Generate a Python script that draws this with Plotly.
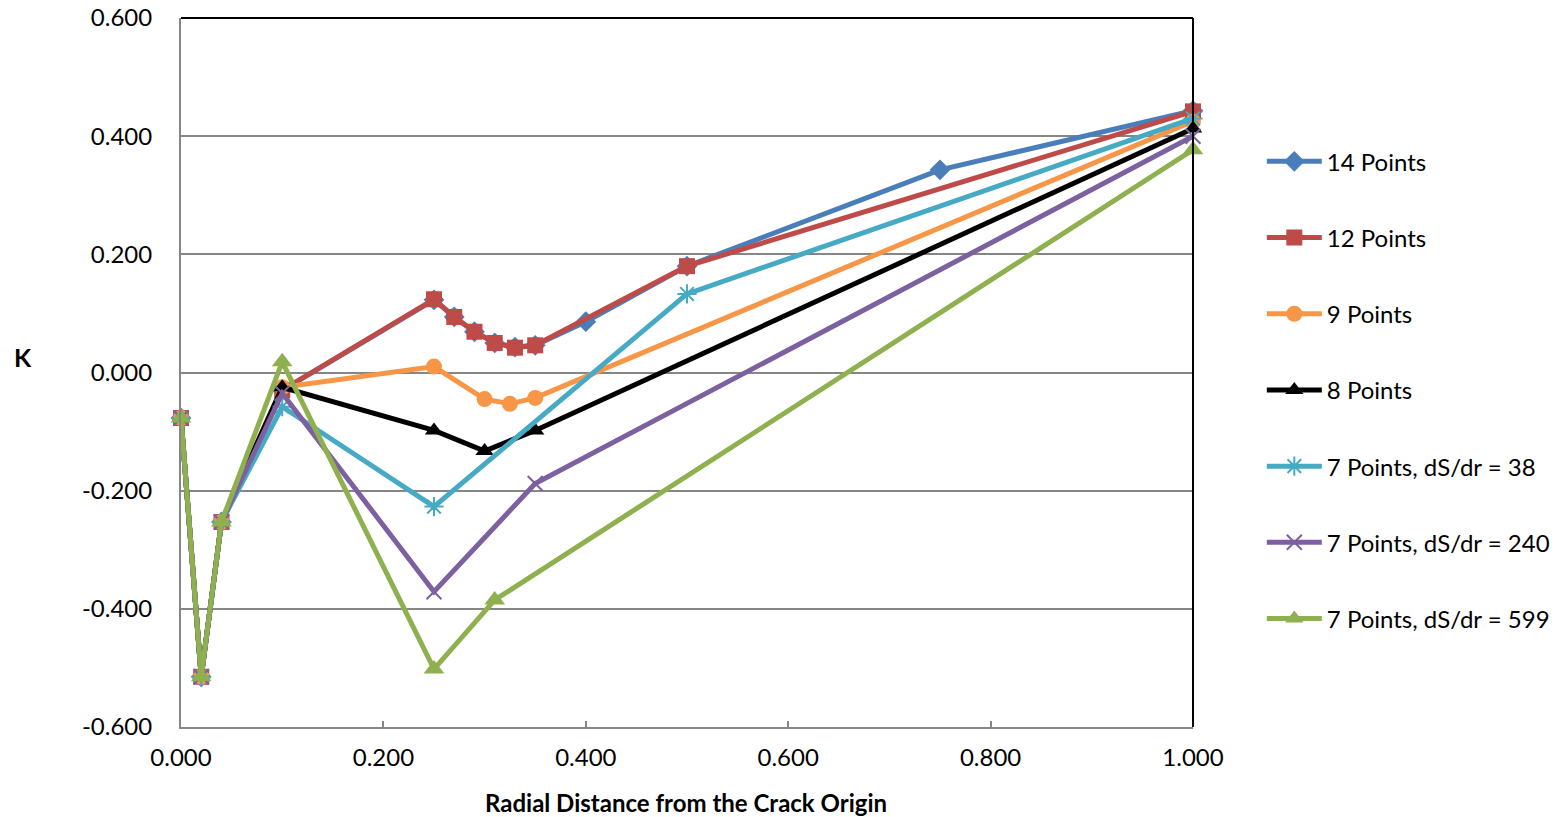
import plotly.graph_objects as go

# ---- data ----
x14 = [0.0, 0.02, 0.04, 0.1, 0.25, 0.27, 0.29, 0.31, 0.33, 0.35, 0.4, 0.5, 0.75, 1.0]
y14 = [-0.077, -0.515, -0.253, -0.030, 0.123, 0.094, 0.069, 0.050, 0.043, 0.046, 0.086, 0.180, 0.343, 0.443]

x12 = [0.0, 0.02, 0.04, 0.1, 0.25, 0.27, 0.29, 0.31, 0.33, 0.35, 0.5, 1.0]
y12 = [-0.077, -0.515, -0.253, -0.030, 0.124, 0.094, 0.069, 0.050, 0.042, 0.046, 0.180, 0.442]

x9 = [0.0, 0.02, 0.04, 0.1, 0.25, 0.3, 0.325, 0.35, 1.0]
y9 = [-0.077, -0.515, -0.253, -0.025, 0.010, -0.045, -0.053, -0.043, 0.425]

x8 = [0.0, 0.02, 0.04, 0.1, 0.25, 0.3, 0.35, 1.0]
y8 = [-0.077, -0.515, -0.253, -0.025, -0.098, -0.133, -0.098, 0.413]

x7a = [0.0, 0.02, 0.04, 0.1, 0.25, 0.5, 1.0]
y7a = [-0.077, -0.515, -0.253, -0.058, -0.227, 0.133, 0.430]

x7b = [0.0, 0.02, 0.04, 0.1, 0.25, 0.35, 1.0]
y7b = [-0.077, -0.515, -0.253, -0.035, -0.371, -0.188, 0.400]

x7c = [0.0, 0.02, 0.04, 0.1, 0.25, 0.31, 1.0]
y7c = [-0.077, -0.515, -0.253, 0.018, -0.502, -0.385, 0.377]

names = ["14 Points", "12 Points", "9 Points", "8 Points",
         "7 Points, dS/dr = 38", "7 Points, dS/dr = 240", "7 Points, dS/dr = 599"]

x_ticks = [0.0, 0.2, 0.4, 0.6, 0.8, 1.0]
y_ticks = [-0.6, -0.4, -0.2, 0.0, 0.2, 0.4, 0.6]
x_ticktext = [f"{v:.3f}" for v in x_ticks]
y_ticktext = [f"{v:.3f}" for v in y_ticks]

# ---- styles ----
colors = ["#4A7EBB", "#BE4B48", "#F79646", "#000000", "#46AAC5", "#7D60A0", "#8FB04E"]
symbols = ["diamond", "square", "circle", "triangle-up", "asterisk-open", "x-thin-open", "triangle-up"]
sizes = [16, 16, 16, 16, 16, 15, 18]

series = [(x14, y14), (x12, y12), (x9, y9), (x8, y8), (x7a, y7a), (x7b, y7b), (x7c, y7c)]

FONT = "Lato, Open Sans, sans-serif"

fig = go.Figure()
for i, ((xs, ys), nm) in enumerate(zip(series, names)):
    open_sym = symbols[i].endswith("open")
    fig.add_trace(go.Scatter(
        x=xs, y=ys, name=nm, mode="lines+markers",
        line=dict(color=colors[i], width=5),
        marker=dict(symbol=symbols[i], size=sizes[i], color=colors[i],
                    line=dict(color=colors[i], width=2 if open_sym else 0)),
        cliponaxis=False, legendgroup=f"g{i}",
    ))

fig.update_layout(
    width=1564, height=817,
    margin=dict(l=181, r=371, t=18, b=90, autoexpand=False),
    paper_bgcolor="white", plot_bgcolor="white",
    font=dict(family=FONT, size=24, color="#000000"),
    showlegend=True,
    legend=dict(x=1.068, xanchor="left", y=0.475, yanchor="middle",
                font=dict(size=24), tracegroupgap=42, itemwidth=55,
                borderwidth=0, bgcolor="rgba(0,0,0,0)"),
    xaxis=dict(range=[0, 1], tickvals=x_ticks, ticktext=x_ticktext,
               showgrid=False, zeroline=False, showline=True,
               linecolor="#868686", linewidth=2, ticklabeloverflow="allow",
               ticks="inside", ticklen=6, tickcolor="#868686", tickwidth=2,
               ticklabelstandoff=8),
    yaxis=dict(range=[-0.6, 0.6], tickvals=y_ticks, ticktext=y_ticktext,
               showgrid=True, gridcolor="#868686", gridwidth=1.5,
               zeroline=False, showline=True, linecolor="#868686", linewidth=2,
               ticklabeloverflow="allow", ticks="", ticklabelstandoff=22),
    shapes=[
        dict(type="line", xref="paper", yref="paper", x0=0, x1=1, y0=1, y1=1,
             line=dict(color="#000000", width=2)),
        dict(type="line", xref="paper", yref="paper", x0=1, x1=1, y0=0, y1=1,
             line=dict(color="#000000", width=2)),
    ],
    annotations=[
        dict(text="<b>Radial Distance from the Crack Origin</b>", xref="paper", yref="paper",
             x=0.499, y=-0.106, xanchor="center", yanchor="middle", showarrow=False,
             font=dict(size=24)),
        dict(text="<b>K</b>", xref="paper", yref="paper",
             x=-0.167, y=0.522, xanchor="left", yanchor="middle", showarrow=False,
             font=dict(size=25)),
    ],
)

fig.write_html("out.html", config={"displayModeBar": False},
               post_script="document.body.style.margin='0';document.body.style.overflow='hidden';")
